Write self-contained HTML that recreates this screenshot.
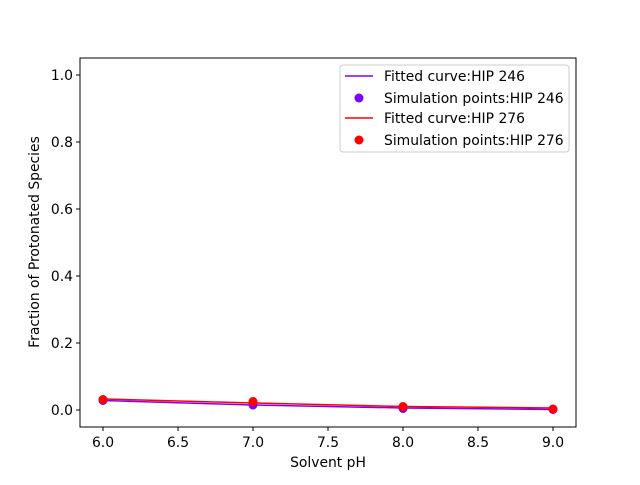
<!DOCTYPE html><html><head><style>body{margin:0;background:#fff}</style></head><body>
<svg width="640" height="480" xmlns="http://www.w3.org/2000/svg" font-family="DejaVu Sans, sans-serif" font-size="13.9">
<rect width="640" height="480" fill="#fff"/>
<polyline points="103,400.5 253,405 403,408 553,409.5" fill="none" stroke="#7f00ff" stroke-width="1.5"/>
<g fill="#7f00ff"><circle cx="103" cy="400.5" r="4.5"/><circle cx="253" cy="405" r="4.5"/><circle cx="403" cy="408.5" r="4.5"/><circle cx="553" cy="409.5" r="4.5"/></g>
<polyline points="103,399 253,403 403,406.5 553,408" fill="none" stroke="#ff0000" stroke-width="1.5"/>
<g fill="#ff0000"><circle cx="103" cy="399.5" r="4.5"/><circle cx="253" cy="401.5" r="4.5"/><circle cx="403" cy="406.5" r="4.5"/><circle cx="553" cy="409" r="4.5"/></g>
<rect x="80" y="58" width="496" height="369" fill="none" stroke="#000" stroke-width="1"/>
<g stroke="#000"><line x1="103" y1="427" x2="103" y2="431"/><line x1="178" y1="427" x2="178" y2="431"/><line x1="253" y1="427" x2="253" y2="431"/><line x1="328" y1="427" x2="328" y2="431"/><line x1="403" y1="427" x2="403" y2="431"/><line x1="478" y1="427" x2="478" y2="431"/><line x1="553" y1="427" x2="553" y2="431"/>
<line x1="76" y1="410" x2="80" y2="410"/><line x1="76" y1="343" x2="80" y2="343"/><line x1="76" y1="276" x2="80" y2="276"/><line x1="76" y1="209" x2="80" y2="209"/><line x1="76" y1="142" x2="80" y2="142"/><line x1="76" y1="75" x2="80" y2="75"/></g>
<g text-anchor="middle"><text x="103" y="447">6.0</text><text x="178" y="447">6.5</text><text x="253" y="447">7.0</text><text x="328" y="447">7.5</text><text x="403" y="447">8.0</text><text x="478" y="447">8.5</text><text x="553" y="447">9.0</text>
<text x="328" y="467">Solvent pH</text></g>
<g text-anchor="end"><text x="73" y="415">0.0</text><text x="73" y="348">0.2</text><text x="73" y="281">0.4</text><text x="73" y="214">0.6</text><text x="73" y="147">0.8</text><text x="73" y="80">1.0</text></g>
<text transform="translate(39,242) rotate(-90)" text-anchor="middle">Fraction of Protonated Species</text>
<rect x="340" y="65" width="229" height="87" rx="3" fill="#fff" fill-opacity="0.8" stroke="#ccc"/>
<line x1="345" y1="76" x2="373" y2="76" stroke="#7f00ff" stroke-width="1.5"/><text x="384" y="81">Fitted curve:HIP 246</text>
<circle cx="359" cy="98" r="4.5" fill="#7f00ff"/><text x="384" y="103">Simulation points:HIP 246</text>
<line x1="345" y1="118" x2="373" y2="118" stroke="#ff0000" stroke-width="1.5"/><text x="384" y="123">Fitted curve:HIP 276</text>
<circle cx="359" cy="140" r="4.5" fill="#ff0000"/><text x="384" y="145">Simulation points:HIP 276</text>
</svg></body></html>
